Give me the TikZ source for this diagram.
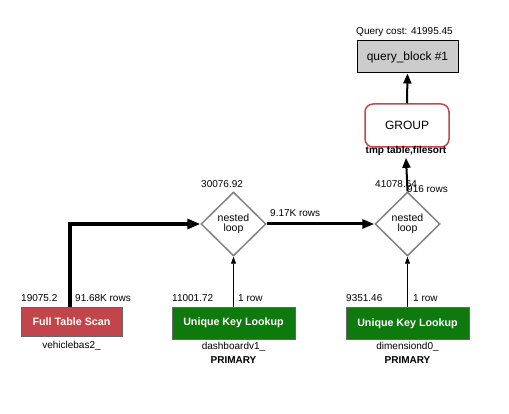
\documentclass[tikz,border=0pt]{standalone}
\usepackage{fontspec}
\setmainfont{Liberation Sans}
\usetikzlibrary{shapes.geometric,arrows.meta}
\definecolor{ftsred}{RGB}{193,69,74}
\definecolor{ukgreen}{RGB}{14,122,14}
\definecolor{grpred}{RGB}{196,72,72}
\definecolor{qbgray}{RGB}{204,204,204}
\definecolor{nlgray}{RGB}{130,130,130}
\tikzset{
  lbl/.style={inner sep=0pt,font=\fontsize{10}{12}\selectfont},
  blbl/.style={inner sep=0pt,font=\fontsize{10}{12}\selectfont\bfseries},
  qbbox/.style={draw=black,line width=1pt,fill=qbgray,minimum width=101pt,minimum height=32pt,inner sep=0pt,font=\fontsize{12}{14}\selectfont},
  grpbox/.style={draw=grpred,line width=1.5pt,rounded corners=8pt,fill=white,minimum width=84pt,minimum height=43pt,inner sep=0pt,font=\fontsize{12}{14}\selectfont},
  nlbox/.style={diamond,draw=nlgray,line width=1.5pt,fill=white,minimum width=65pt,minimum height=64pt,inner sep=0pt,align=center,font=\fontsize{10.5}{10.5}\selectfont},
  ftsbox/.style={draw=black!60,line width=0.6pt,fill=ftsred,text=white,minimum width=101pt,minimum height=29pt,inner sep=0pt,font=\fontsize{10.7}{12}\selectfont\bfseries},
  ukbox/.style={draw=black!60,line width=0.6pt,fill=ukgreen,text=white,minimum width=123pt,minimum height=32pt,inner sep=0pt,font=\fontsize{10.7}{12}\selectfont\bfseries},
  bigflow/.style={line width=4pt,-{Triangle[length=13pt,width=10pt]}},
  midflow/.style={line width=3pt,-{Triangle[length=12pt,width=9pt]}},
  smallflow/.style={line width=2pt,-{Triangle[length=10pt,width=8pt]}},
  thinflow/.style={line width=0.8pt,-{Triangle[length=7pt,width=5pt]}},
}
\begin{document}
\begin{tikzpicture}[x=1pt,y=-1pt]
\useasboundingbox[fill=white] (0,0) rectangle (509,414);
% nodes
\node[qbbox] (qb) at (407.5,57) {query\_block \#1};
\node[lbl] (qcost) at (404.5,32) {Query cost: 41995.45};
\node[grpbox] (grp) at (407,125.5) {GROUP};
\node[blbl] (tmp) at (406,151) {tmp table,filesort};
\node[nlbox] (nl1) at (233.5,224) {nested\\loop};
\node[nlbox] (nl2) at (407.5,224) {nested\\loop};
\node[ftsbox] (fts) at (71.5,321.5) {Full Table Scan};
\node[ukbox] (uk1) at (233.5,323) {Unique Key Lookup};
\node[ukbox] (uk2) at (407.5,323.5) {Unique Key Lookup};
% labels under tables
\node[lbl] (t1) at (71.5,346) {vehiclebas2\_};
\node[lbl] (t2) at (233.5,347) {dashboardv1\_};
\node[blbl] (k2) at (233.5,360) {PRIMARY};
\node[lbl] (t3) at (407.5,347) {dimensiond0\_};
\node[blbl] (k3) at (407.5,360) {PRIMARY};
% cost labels
\node[lbl,anchor=west] (c1) at (21,298) {19075.2};
\node[lbl,anchor=west] (r1) at (75,298) {91.68K rows};
\node[lbl,anchor=west] (c2) at (172,298) {11001.72};
\node[lbl,anchor=west] (r2) at (238,298) {1 row};
\node[lbl,anchor=west] (c3) at (346,298) {9351.46};
\node[lbl,anchor=west] (r3) at (413,298) {1 row};
\node[lbl,anchor=west] (c4) at (201,184) {30076.92};
\node[lbl,anchor=west] (c5) at (375,184) {41078.64};
\node[lbl,anchor=west] (r5) at (407,189) {916 rows};
\node[lbl,anchor=west] (r4) at (270,213) {9.17K rows};
% connectors
\coordinate (ftstop) at ([xshift=-1.5pt]fts.north);
\coordinate (tmpbot) at ([yshift=-2pt]tmp.south);
\draw[bigflow] (ftstop) |- (nl1.west);
\draw[midflow] (nl1.east) -- (nl2.west);
\draw[smallflow] (nl2.north) -- (tmpbot);
\draw[smallflow] (grp.north) -- (qb.south);
\draw[thinflow] (uk1.north) -- (nl1.south);
\draw[thinflow] (uk2.north) -- (nl2.south);
\end{tikzpicture}
\end{document}
